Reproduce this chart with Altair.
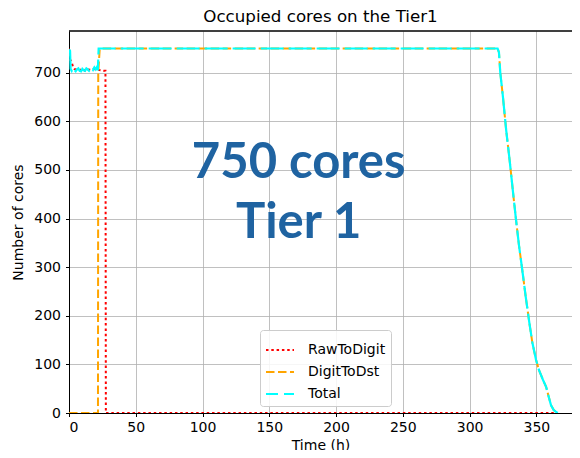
import altair as alt
import pandas as pd

# ---- data ----
series_names = ["RawToDigit", "DigitToDst", "Total"]
series_colors = ["#ff0000", "#ffa500", "#00ffff"]
legend_dashes = [[2.5, 2.8], [8.5, 3.5], [12, 6]]

decline_t = [321, 322, 323, 325, 327.4, 330, 332.5, 334.8, 337, 339.8, 342, 344.8,
             347, 349.8, 352, 355, 357.3, 359, 361, 363, 365, 366]
decline_v = [750, 742, 700, 650, 582, 520, 455, 397, 345, 287, 240, 185,
             145, 109, 88, 68, 54, 36, 16, 6, 2, 0]

total_t = [0, 0.8, 1.2, 2, 3, 4, 5, 6, 7, 8, 9, 10, 11, 12, 13, 14, 15, 16, 17, 18, 19,
           20, 21, 21.6, 22.2] + decline_t
total_v = [748, 745, 708, 704, 710, 706, 703, 707, 709, 704, 703, 708, 705, 704, 709,
           707, 704, 708, 710, 706, 711, 707, 712, 705, 750] + decline_v

raw_t = [0, 1, 2, 3, 4, 6, 8, 10, 12, 14, 16, 18, 20, 22, 24, 26, 27.3, 27.6, 366]
raw_v = [750, 726, 722, 712, 708, 706, 705, 709, 704, 707, 706, 708, 707, 706, 705,
         704, 704, 0, 0]

digit_t = [0, 21.7, 21.9, 23, 23.5] + decline_t
digit_v = [0, 0, 700, 748, 750] + decline_v

note_lines = ["750 cores", "Tier 1"]
note_t = [172, 172]
note_v = [484, 361]

x_max = 376.7
y_max = 786

# ---- tables ----
rows = []
for name, ts, vs in [("RawToDigit", raw_t, raw_v), ("DigitToDst", digit_t, digit_v),
                     ("Total", total_t, total_v)]:
    for i, (t, v) in enumerate(zip(ts, vs)):
        rows.append({"series": name, "t": t, "v": v, "order": i})
df = pd.DataFrame(rows)
notes = pd.DataFrame({"label": note_lines, "t": note_t, "v": note_v})

x_scale = alt.Scale(domain=[0, x_max], nice=False, zero=False)
y_scale = alt.Scale(domain=[0, y_max], nice=False)
color_scale = alt.Scale(domain=series_names, range=series_colors)
dash_scale = alt.Scale(domain=series_names, range=legend_dashes)

legend = alt.Legend(
    title=None, orient="none", legendX=191, legendY=299,
    symbolType="stroke", symbolSize=784, symbolStrokeWidth=2,
    labelFont="DejaVu Sans", labelFontSize=14, labelColor="black", labelOffset=13,
    fillColor="rgba(255,255,255,0.85)", strokeColor="#cccccc", cornerRadius=3,
    padding=5, rowPadding=-5,
)

x_axis = alt.Axis(title="Time (h)", values=[0, 50, 100, 150, 200, 250, 300, 350],
                  format="d", labelPadding=4, titlePadding=4)
y_axis = alt.Axis(title="Number of cores", values=[0, 100, 200, 300, 400, 500, 600, 700],
                  format="d", labelPadding=5, titlePadding=8)

base = alt.Chart(df).encode(
    x=alt.X("t:Q", scale=x_scale, axis=x_axis),
    y=alt.Y("v:Q", scale=y_scale, axis=y_axis),
    order="order:Q",
    color=alt.Color("series:N", scale=color_scale, legend=legend),
)

# invisible layer that only feeds the legend its dash patterns
legend_only = base.transform_filter("false").mark_line().encode(
    strokeDash=alt.StrokeDash("series:N", scale=dash_scale, legend=legend),
)

raw = base.transform_filter(alt.datum.series == "RawToDigit").mark_line(
    strokeWidth=2, strokeDash=[2.5, 2.8], clip=True)
digit = base.transform_filter(alt.datum.series == "DigitToDst").mark_line(
    strokeWidth=2, strokeDash=[8.5, 3.5], clip=True)
total = base.transform_filter(alt.datum.series == "Total").mark_line(
    strokeWidth=2.2, strokeDash=[23, 5], clip=True)

# top spine of the frame (right spine is cut off in the reference)
top_spine = alt.Chart(notes).mark_rule(color="black", strokeWidth=1).encode(
    x=alt.datum(0, scale=x_scale),
    x2=alt.datum(x_max),
    y=alt.datum(y_max, scale=y_scale),
)

text = alt.Chart(notes).mark_text(
    font="Lato", fontWeight="bold", fontSize=49, color="#1f63a1",
    align="center", baseline="alphabetic",
).encode(
    x=alt.X("t:Q", scale=x_scale),
    y=alt.Y("v:Q", scale=y_scale),
    text="label:N",
)

chart = alt.layer(legend_only, raw, digit, total, top_spine, text).properties(
    width=503, height=382,
    title=alt.TitleParams("Occupied cores on the Tier1", font="DejaVu Sans",
                          fontSize=16.7, fontWeight="normal", color="black", offset=5),
    autosize=alt.AutoSizeParams(type="none"),
    padding={"left": 61, "top": 23, "right": 0, "bottom": 37},
).configure_view(
    strokeWidth=0,
).configure_axis(
    labelFont="DejaVu Sans", labelFontSize=14, labelColor="black",
    titleFont="DejaVu Sans", titleFontSize=14, titleFontWeight="normal", titleColor="black",
    domainColor="black", domainWidth=1, tickColor="black", tickSize=3.5, tickWidth=1,
    gridColor="#b0b0b0", gridWidth=0.8,
)

chart.save("out.html", embed_options={"renderer": "svg", "actions": False})
